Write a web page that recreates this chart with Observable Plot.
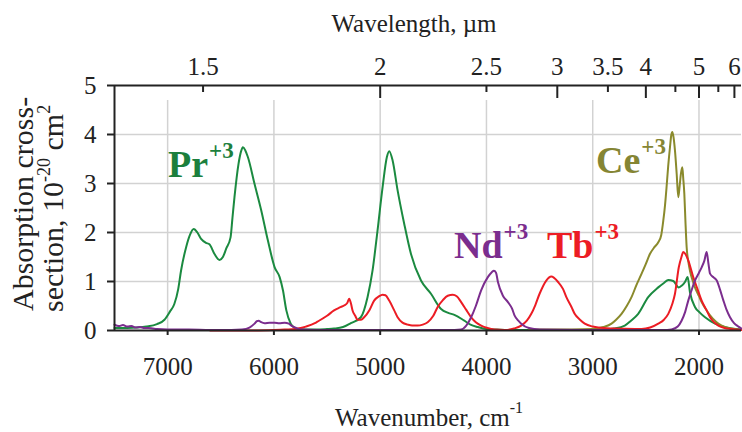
<!DOCTYPE html>
<html>
<head>
<meta charset="utf-8">
<script src="https://cdn.jsdelivr.net/npm/d3@7"></script>
<script src="https://cdn.jsdelivr.net/npm/@observablehq/plot@0.6"></script>
<style>
  html, body { margin: 0; padding: 0; background: #fff; }
</style>
</head>
<body>
<div id="chart"></div>
<script>
// ---------------- data ----------------
const prWavenumber = [7500, 7400, 7300, 7200, 7100, 7030, 6980, 6937, 6900, 6874, 6826, 6790, 6755, 6720, 6685, 6640, 6607, 6559, 6512, 6480, 6449, 6408, 6390, 6371, 6333, 6310, 6292, 6270, 6245, 6182, 6119, 6057, 5993, 5946, 5915, 5883, 5842, 5800, 5774, 5700, 5600, 5500, 5434, 5350, 5276, 5182, 5119, 5072, 5025, 4977, 4937, 4915, 4883, 4836, 4774, 4710, 4616, 4522, 4427, 4360, 4302, 4208, 4150, 4081, 4000, 3900, 3800, 3700, 3600, 3500, 3400, 3300, 3200, 3100, 3000, 2900, 2800, 2698, 2640, 2572, 2478, 2383, 2330, 2289, 2242, 2190, 2160, 2132, 2107, 2085, 2038, 1990, 1943, 1849, 1760, 1692, 1600];
const prCross = [0.05, 0.05, 0.06, 0.08, 0.13, 0.22, 0.38, 0.54, 0.85, 1.22, 1.70, 1.95, 2.07, 2.00, 1.87, 1.79, 1.76, 1.56, 1.44, 1.50, 1.67, 1.90, 2.30, 2.72, 3.40, 3.65, 3.74, 3.68, 3.54, 2.99, 2.45, 1.84, 1.29, 1.09, 0.82, 0.41, 0.14, 0.05, 0.03, 0.02, 0.02, 0.03, 0.04, 0.07, 0.15, 0.27, 0.68, 1.22, 2.04, 2.93, 3.54, 3.66, 3.47, 2.86, 2.18, 1.56, 1.02, 0.75, 0.44, 0.36, 0.32, 0.20, 0.12, 0.07, 0.03, 0.02, 0.01, 0.01, 0.01, 0.01, 0.01, 0.01, 0.01, 0.01, 0.01, 0.02, 0.04, 0.10, 0.20, 0.34, 0.68, 0.88, 0.97, 1.03, 1.01, 0.88, 0.92, 0.99, 1.09, 0.78, 0.48, 0.36, 0.27, 0.14, 0.07, 0.04, 0.02];

const ndWavenumber = [7500, 7460, 7420, 7380, 7340, 7300, 7260, 7220, 7180, 7140, 7100, 7000, 6800, 6600, 6400, 6300, 6230, 6182, 6160, 6144, 6120, 6088, 6040, 5993, 5950, 5899, 5860, 5836, 5790, 5742, 5600, 5000, 4400, 4300, 4238, 4190, 4144, 4100, 4050, 3987, 3950, 3930, 3910, 3892, 3845, 3798, 3760, 3736, 3700, 3673, 3600, 3500, 3000, 2500, 2300, 2258, 2200, 2164, 2130, 2101, 2070, 2038, 2000, 1975, 1950, 1928, 1910, 1896, 1860, 1833, 1800, 1770, 1740, 1708, 1670, 1629, 1600];
const ndCross = [0.12, 0.09, 0.11, 0.08, 0.09, 0.06, 0.07, 0.05, 0.05, 0.04, 0.03, 0.02, 0.02, 0.01, 0.01, 0.02, 0.06, 0.14, 0.19, 0.20, 0.17, 0.15, 0.16, 0.16, 0.15, 0.16, 0.14, 0.10, 0.05, 0.02, 0.01, 0.01, 0.01, 0.01, 0.02, 0.10, 0.27, 0.50, 0.82, 1.09, 1.19, 1.22, 1.18, 0.99, 0.71, 0.58, 0.45, 0.31, 0.20, 0.14, 0.05, 0.02, 0.01, 0.01, 0.01, 0.02, 0.08, 0.20, 0.38, 0.61, 0.82, 1.02, 1.18, 1.29, 1.42, 1.60, 1.35, 1.16, 1.08, 1.02, 0.82, 0.61, 0.42, 0.27, 0.15, 0.08, 0.04];

const tbWavenumber = [6600, 6200, 6000, 5900, 5800, 5748, 5700, 5615, 5591, 5500, 5434, 5380, 5340, 5310, 5292, 5275, 5260, 5235, 5213, 5180, 5151, 5100, 5057, 5010, 4977, 4950, 4915, 4870, 4836, 4790, 4742, 4700, 4647, 4600, 4553, 4500, 4459, 4410, 4364, 4317, 4280, 4238, 4190, 4144, 4100, 4050, 3990, 3925, 3830, 3740, 3673, 3620, 3578, 3540, 3500, 3437, 3390, 3326, 3280, 3248, 3200, 3170, 3120, 3075, 3000, 2949, 2800, 2600, 2540, 2460, 2383, 2330, 2289, 2250, 2226, 2190, 2165, 2148, 2125, 2101, 2054, 2010, 1975, 1930, 1896, 1860, 1818, 1760, 1700, 1600];
const tbCross = [0.00, 0.00, 0.01, 0.02, 0.03, 0.05, 0.08, 0.15, 0.18, 0.30, 0.41, 0.47, 0.51, 0.56, 0.65, 0.55, 0.41, 0.30, 0.22, 0.22, 0.27, 0.42, 0.61, 0.70, 0.73, 0.72, 0.61, 0.42, 0.27, 0.16, 0.12, 0.10, 0.10, 0.12, 0.17, 0.30, 0.48, 0.62, 0.71, 0.73, 0.70, 0.58, 0.42, 0.27, 0.17, 0.10, 0.05, 0.02, 0.01, 0.04, 0.10, 0.20, 0.34, 0.52, 0.75, 1.02, 1.10, 0.99, 0.85, 0.68, 0.48, 0.34, 0.22, 0.14, 0.08, 0.06, 0.04, 0.03, 0.03, 0.06, 0.14, 0.22, 0.34, 0.55, 0.75, 1.29, 1.50, 1.60, 1.55, 1.43, 1.09, 0.82, 0.61, 0.42, 0.27, 0.17, 0.10, 0.05, 0.03, 0.01];

const ceWavenumber = [3600, 3200, 3000, 2900, 2823, 2780, 2729, 2680, 2635, 2590, 2540, 2500, 2462, 2420, 2383, 2355, 2336, 2320, 2305, 2290, 2273, 2260, 2251, 2240, 2226, 2210, 2195, 2182, 2170, 2157, 2148, 2138, 2127, 2116, 2100, 2085, 2060, 2038, 2000, 1975, 1940, 1896, 1840, 1786, 1700, 1629, 1600];
const ceCross = [0.02, 0.02, 0.03, 0.07, 0.14, 0.22, 0.34, 0.50, 0.68, 0.92, 1.16, 1.36, 1.56, 1.70, 1.80, 1.95, 2.24, 2.55, 2.93, 3.35, 3.74, 4.00, 4.05, 3.95, 3.67, 3.20, 2.72, 2.95, 3.20, 3.33, 3.10, 2.79, 2.20, 1.70, 1.40, 1.22, 1.02, 0.88, 0.70, 0.58, 0.45, 0.31, 0.18, 0.10, 0.04, 0.02, 0.01];

const ions = ["Pr", "Ce", "Tb", "Nd"];
const ionCharge = "+3";
const wavenumberTicks = [7000, 6000, 5000, 4000, 3000, 2000];
const crossTicks = [0, 1, 2, 3, 4, 5];
const wavelengthMajor = [2, 3, 4, 5, 6];
const wavelengthHalf = [1.5, 2.5, 3.5, 4.5, 5.5];
const wavelengthLabels = [1.5, 2, 2.5, 3, 3.5, 4, 5, 6];

// ---------------- styling / layout ----------------
const FONT = "Liberation Serif";
const colors = {Pr: "#1b8a40", Ce: "#8a8a2c", Tb: "#ec1c24", Nd: "#7b2d8e"};
const labelColors = {Pr: "#1c7f3d", Ce: "#858534", Tb: "#ec1c24", Nd: "#7b2d8e"};
const labelPos = {Pr: [6992, 3.12], Ce: [2964, 3.20], Nd: [4301, 1.47], Tb: [3426, 1.47]};
const ink = "#222";

const series = {
  Pr: prWavenumber.map((w, i) => ({w, v: prCross[i]})),
  Ce: ceWavenumber.map((w, i) => ({w, v: ceCross[i]})),
  Tb: tbWavenumber.map((w, i) => ({w, v: tbCross[i]})),
  Nd: ndWavenumber.map((w, i) => ({w, v: ndCross[i]}))
};
const toWn = (lam) => 1e4 / lam;

const chart = Plot.plot({
  width: 742,
  height: 432,
  marginLeft: 114,
  marginRight: 1,
  marginTop: 85,
  marginBottom: 102,
  style: {fontSize: "25px", color: ink, background: "#fff", overflow: "visible"},
  x: {domain: [7500, 1600], axis: null},
  y: {domain: [0, 5], axis: null},
  marks: [
    Plot.ruleX(wavenumberTicks, {stroke: "#d2d2d2", strokeWidth: 1.5, insetTop: 15}),
    Plot.ruleY(crossTicks.filter(d => d > 0 && d < 5), {stroke: "#d2d2d2", strokeWidth: 1.5}),
    ...ions.map(ion => Plot.line(series[ion], {x: "w", y: "v", stroke: colors[ion], strokeWidth: 2, curve: "monotone-x"})),
    Plot.ruleY([0], {stroke: ink, strokeWidth: 2}),
    Plot.ruleY([5], {stroke: ink, strokeWidth: 2}),
    Plot.ruleX([7500], {stroke: ink, strokeWidth: 2}),
    Plot.axisX(wavenumberTicks, {anchor: "bottom", tickSize: 5, tickPadding: 22, fontSize: 25, strokeWidth: 2, stroke: ink, fill: ink, tickFormat: d => String(d), label: null}),
    Plot.axisY(crossTicks, {anchor: "left", tickSize: 7, tickPadding: 11, fontSize: 25, strokeWidth: 2, stroke: ink, fill: ink, tickFormat: d => String(d), label: null}),
    Plot.axisX(wavelengthLabels.map(toWn), {anchor: "top", tickSize: 0, tickPadding: 11, fontSize: 25, fill: ink, tickFormat: d => String(+(1e4 / d).toFixed(1)), label: null}),
    Plot.tickX(wavelengthMajor.map(toWn), {stroke: ink, strokeWidth: 2, insetBottom: 232}),
    Plot.tickX(wavelengthHalf.map(toWn), {stroke: ink, strokeWidth: 2, insetBottom: 238})
  ]
});

document.getElementById("chart").append(chart);

// ---------------- annotations ----------------
const svg = d3.select(chart);
svg.attr("font-family", FONT);
const sx = chart.scale("x"), sy = chart.scale("y");

// ion labels
ions.forEach(ion => {
  const [w, v] = labelPos[ion];
  const t = svg.append("text")
    .attr("x", sx.apply(w)).attr("y", sy.apply(v))
    .attr("text-anchor", "start")
    .attr("fill", labelColors[ion])
    .attr("font-weight", "bold")
    .attr("font-size", 38);
  t.append("tspan").text(ion);
  t.append("tspan").attr("font-size", 23).attr("dx", 1).attr("dy", -19).text(ionCharge);
});

// top title
svg.append("text")
  .attr("x", 414).attr("y", 32)
  .attr("text-anchor", "middle").attr("font-size", 25).attr("fill", ink)
  .text("Wavelength, µm");

// bottom title
{
  const t = svg.append("text")
    .attr("x", 429).attr("y", 426)
    .attr("text-anchor", "middle").attr("font-size", 25).attr("fill", ink);
  t.append("tspan").text("Wavenumber, cm");
  t.append("tspan").attr("font-size", 16).attr("dy", -13).text("-1");
}

// y title (two lines)
{
  const g = svg.append("g").attr("fill", ink).attr("font-size", 30).attr("text-anchor", "start");
  g.append("text")
    .attr("text-anchor", "start")
    .attr("transform", "translate(33,311) rotate(-90)")
    .text("Absorption cross-");
  const t2 = g.append("text")
    .attr("text-anchor", "start")
    .attr("transform", "translate(63,312) rotate(-90)");
  t2.append("tspan").text("section, 10");
  t2.append("tspan").attr("font-size", 18).attr("dy", -13).text("-20");
  t2.append("tspan").attr("dy", 13).text(" cm");
  t2.append("tspan").attr("font-size", 18).attr("dy", -13).text("2");
}

svg.selectAll("g, text").attr("font-family", FONT);
</script>
</body>
</html>
